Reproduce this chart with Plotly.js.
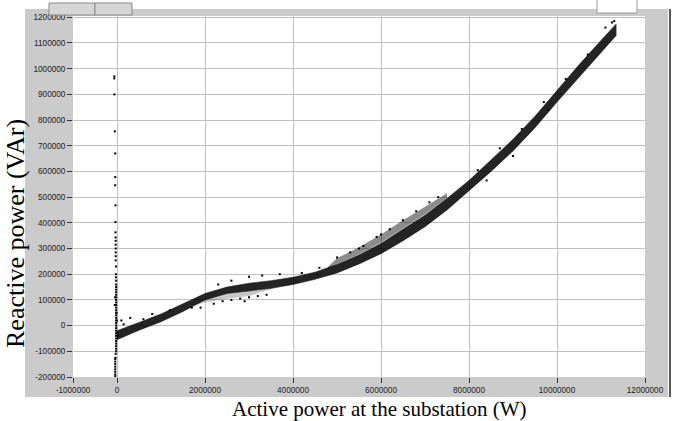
<!DOCTYPE html>
<html>
<head>
<meta charset="utf-8">
<script src="https://cdn.plot.ly/plotly-3.0.1.min.js"></script>
<style>html,body{margin:0;padding:0;background:#fff}#chart{width:675px;height:421px}</style>
</head>
<body>
<div id="chart"></div>
<script>
// ---- Data ----
// Dense core of the measurement cloud (lower / upper envelope)
var bandX    = [0, 250000, 500000, 1000000, 1500000, 2000000, 2500000, 3000000, 3500000, 4000000, 4500000, 5000000, 5500000, 6000000, 6500000, 7000000, 7500000, 8000000, 8500000, 9000000, 9500000, 10000000, 10500000, 11000000, 11200000, 11350000];
var bandLow  = [-55000, -35000, -18000, 15000, 55000, 100000, 125000, 135000, 145000, 160000, 180000, 205000, 240000, 280000, 330000, 385000, 450000, 525000, 600000, 680000, 770000, 870000, 965000, 1060000, 1100000, 1130000];
var bandHigh = [-20000, -5000, 12000, 45000, 85000, 125000, 150000, 165000, 175000, 188000, 208000, 238000, 275000, 320000, 375000, 430000, 495000, 565000, 645000, 725000, 815000, 915000, 1015000, 1110000, 1145000, 1175000];

// Sparser upper strand (5 MW - 7.5 MW)
var strandX    = [4800000, 5000000, 5500000, 6000000, 6500000, 7000000, 7500000];
var strandLow  = [220000, 240000, 278000, 323000, 378000, 433000, 497000];
var strandHigh = [230000, 262000, 305000, 355000, 410000, 462000, 515000];

// Sparser lower fringe (1.8 MW - 3.6 MW)
var fringeX    = [1800000, 2000000, 2500000, 3000000, 3600000];
var fringeLow  = [80000, 90000, 105000, 115000, 147000];
var fringeHigh = [82000, 100000, 125000, 135000, 147000];

// Scattered points around the cloud
var scatX = [100000, 300000, 150000, 600000, 800000, 1200000, 1700000, 1900000, 2200000, 2400000, 2600000, 2800000, 2900000, 3000000, 3200000, 3400000, 2300000, 2600000, 3000000, 3300000, 3700000, 4200000, 4600000, 5000000, 5300000, 5500000, 5600000, 5900000, 6000000, 6200000, 6500000, 6800000, 7100000, 7300000, 8200000, 8700000, 9200000, 9700000, 10200000, 10700000, 11300000, 11100000, 11250000, 8400000, 9000000, 9800000];
var scatY = [20000, 30000, 5000, 25000, 45000, 60000, 70000, 70000, 85000, 95000, 100000, 105000, 95000, 110000, 115000, 120000, 160000, 175000, 190000, 195000, 200000, 205000, 225000, 265000, 285000, 300000, 310000, 345000, 355000, 375000, 410000, 445000, 480000, 500000, 605000, 690000, 765000, 870000, 960000, 1055000, 1185000, 1160000, 1180000, 565000, 660000, 840000];

// Vertical spike of points near zero active power
var spikeX = [-60000, -62000, -60000, -50000, -40000, -40000, -40000, -35000, -35000, -35000, -30000, -30000, -30000, -30000, -30000, -30000, -30000, -25000, -25000, -25000, -20000, -20000, -20000, -20000, -20000, -20000, -20000, -20000, -20000, -20000, -20000, -20000, -20000, -20000, -20000, -20000, -20000, -20000, -20000, -20000, -20000, -20000, -20000, -20000, -20000, -20000, -20000, -20000, -30000, -35000, -40000, -40000, -40000, -40000, -40000, -40000, -40000, -40000, -10000, 0, -50000, -5000, 10000, -45000];
var spikeY = [970000, 962000, 900000, 756000, 670000, 578000, 546000, 468000, 403000, 363000, 343000, 330000, 315000, 300000, 285000, 270000, 254000, 230000, 200000, 188000, 175000, 160000, 150000, 140000, 130000, 120000, 110000, 100000, 90000, 80000, 70000, 60000, 50000, 40000, 30000, 20000, 10000, 0, -10000, -20000, -30000, -40000, -50000, -60000, -70000, -80000, -90000, -100000, -110000, -125000, -140000, -150000, -160000, -170000, -180000, -190000, -197000, -130000, 50000, 20000, 80000, -30000, -40000, 110000];

// Tick labels
var xTickVals = [-1000000, 0, 2000000, 4000000, 6000000, 8000000, 10000000, 12000000];
var xTickText = ['-1000000', '0', '2000000', '4000000', '6000000', '8000000', '10000000', '12000000'];
var yTickVals = [-200000, -100000, 0, 100000, 200000, 300000, 400000, 500000, 600000, 700000, 800000, 900000, 1000000, 1100000, 1200000];
var yTickText = ['-200000', '-100000', '0', '100000', '200000', '300000', '400000', '500000', '600000', '700000', '800000', '900000', '1000000', '1100000', '1200000'];

var xTitle = 'Active power at the substation (W)';
var yTitle = 'Reactive power (VAr)';

// ---- Layout geometry (pixels) ----
var PL = 73, PR = 645, PT = 16, PB = 377, W = 675, H = 421;
function px(x) { return (x - PL) / (PR - PL); }
function py(y) { return (PB - y) / (PB - PT); }
var gray = '#cbcbcb';
function grect(x0, y0, x1, y1, fill, line, layer) {
  return {type: 'rect', xref: 'paper', yref: 'paper', x0: px(x0), x1: px(x1), y0: py(y1), y1: py(y0),
          fillcolor: fill, line: {width: line ? 1 : 0, color: line || fill}, layer: layer || 'below'};
}
function pair(xs, lo, hi, fillc, lw) {
  return [
    {x: xs, y: lo, mode: 'lines', line: {color: 'rgba(0,0,0,0.6)', width: lw}, hoverinfo: 'skip'},
    {x: xs, y: hi, mode: 'lines', fill: 'tonexty', fillcolor: fillc, line: {color: 'rgba(0,0,0,0.6)', width: lw}, hoverinfo: 'skip'}
  ];
}

var traces = []
  .concat(pair(fringeX, fringeLow, fringeHigh, 'rgba(0,0,0,0.22)', 0))
  .concat(pair(strandX, strandLow, strandHigh, 'rgba(0,0,0,0.45)', 0))
  .concat(pair(bandX, bandLow, bandHigh, 'rgba(0,0,0,0.86)', 0.8))
  .concat([
    {x: scatX, y: scatY, mode: 'markers', marker: {color: '#000', size: 2, symbol: 'square'}},
    {x: spikeX, y: spikeY, mode: 'markers', marker: {color: '#000', size: 2, symbol: 'square'}}
  ]);

var tickFont = {family: 'Liberation Sans, Arial, sans-serif', size: 8.2, color: '#222'};
var layout = {
  width: W, height: H,
  margin: {l: PL, r: W - PR, t: PT, b: H - PB, pad: 0},
  paper_bgcolor: '#ffffff', plot_bgcolor: '#ffffff',
  showlegend: false,
  xaxis: {range: [-1000000, 12000000], tickmode: 'array', tickvals: xTickVals, ticktext: xTickText,
          showgrid: true, gridcolor: '#c0c0c0', gridwidth: 1, zeroline: false, showline: false,
          ticks: 'outside', ticklen: 5, tickcolor: '#333', tickfont: tickFont, fixedrange: true},
  yaxis: {range: [-200000, 1205000], tickmode: 'array', tickvals: yTickVals, ticktext: yTickText,
          showgrid: true, gridcolor: '#c0c0c0', gridwidth: 1, zeroline: false, showline: false,
          ticks: 'outside', ticklen: 5, tickcolor: '#333', tickfont: tickFont, fixedrange: true},
  shapes: [
    grect(25, 9, PL, 397, gray),
    grect(PR, 9, 668, 397, gray),
    grect(PL, 9, PR, PT, gray),
    grect(PL, PB, PR, 397, gray),
    {type: 'line', xref: 'paper', yref: 'paper', x0: px(670), x1: px(670), y0: py(397), y1: py(9), line: {color: '#5a5a5a', width: 2}, layer: 'above'},
    grect(49, 3, 95, 15, '#d6d6d6', '#8a8a8a', 'above'),
    grect(95, 3, 132, 15, '#d6d6d6', '#8a8a8a', 'above'),
    grect(597, -2, 637, 13, '#ffffff', '#9a9a9a', 'above')
  ],
  annotations: [
    {text: xTitle, xref: 'paper', yref: 'paper', x: px(379), y: py(409), xanchor: 'center', yanchor: 'middle',
     showarrow: false, font: {family: 'Liberation Serif, Times New Roman, serif', size: 21, color: '#000'}},
    {text: yTitle, xref: 'paper', yref: 'paper', x: px(15), y: py(234), xanchor: 'center', yanchor: 'middle',
     textangle: -90, showarrow: false, font: {family: 'Liberation Serif, Times New Roman, serif', size: 26, color: '#000'}}
  ]
};

Plotly.newPlot('chart', traces, layout, {staticPlot: true, displayModeBar: false});
</script>
</body>
</html>
